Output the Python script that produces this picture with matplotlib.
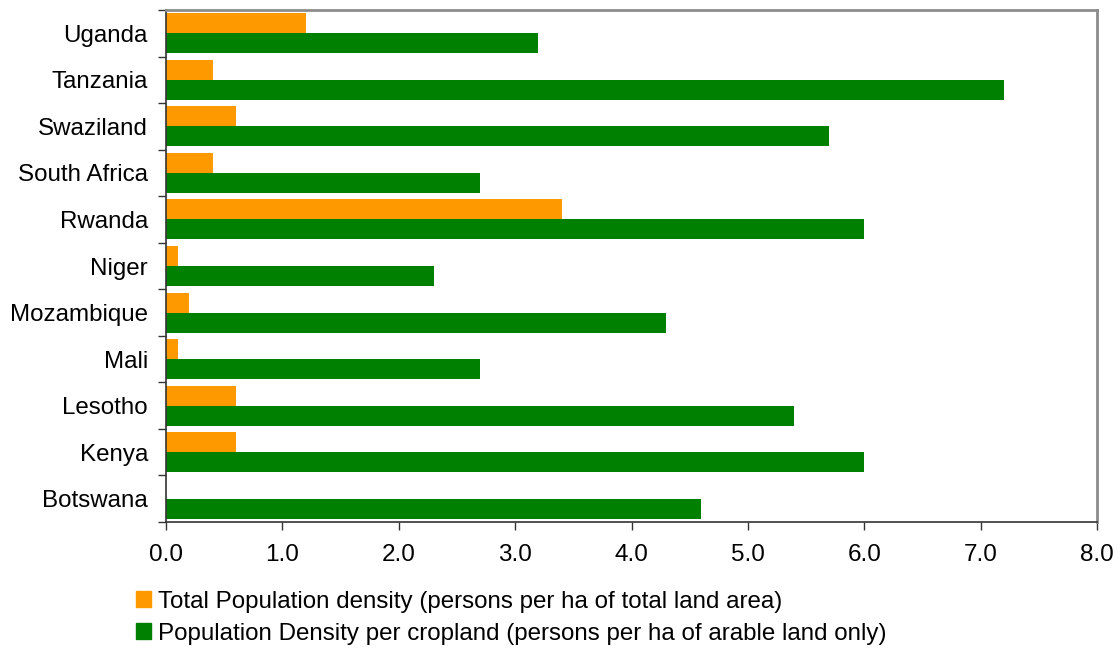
import numpy as np
import matplotlib.pyplot as plt
from matplotlib.patches import Patch

plt.rcParams['font.family'] = ['Liberation Sans', 'DejaVu Sans']

countries = ["Botswana", "Kenya", "Lesotho", "Mali", "Mozambique", "Niger",
             "Rwanda", "South Africa", "Swaziland", "Tanzania", "Uganda"]
total_density = [0.0, 0.6, 0.6, 0.1, 0.2, 0.1, 3.4, 0.4, 0.6, 0.4, 1.2]
cropland_density = [4.6, 6.0, 5.4, 2.7, 4.3, 2.3, 6.0, 2.7, 5.7, 7.2, 3.2]
xticks = np.arange(0, 9, 1.0)

ORANGE = "#FF9900"
GREEN = "#008000"

fig = plt.figure(figsize=(11.2, 6.48), dpi=100)
ax = fig.add_axes([0.1482, 0.1944, 0.8313, 0.7902])

y = np.arange(len(countries))
h = 0.43
ax.barh(y + h / 2, total_density, height=h, color=ORANGE)
ax.barh(y - h / 2, cropland_density, height=h, color=GREEN)

ax.set_xlim(0, 8)
ax.set_ylim(-0.5, len(countries) - 0.5)
ax.set_xticks(xticks)
ax.set_xticklabels([f"{v:.1f}" for v in xticks], fontsize=17.5)
ax.set_yticks(y)
ax.set_yticklabels(countries, fontsize=17.4)
ax.set_yticks(np.arange(-0.5, len(countries)), minor=True)
ax.tick_params(axis='y', which='major', length=0, pad=13)
ax.tick_params(axis='y', which='minor', length=6, width=1, color="#333333")
ax.tick_params(axis='x', length=6, width=1, color="#333333", pad=10)

for side in ("left", "bottom"):
    ax.spines[side].set_color("#333333")
    ax.spines[side].set_linewidth(1.2)
for side in ("top", "right"):
    ax.spines[side].set_color("#8c8c8c")
    ax.spines[side].set_linewidth(2)

handles = [Patch(color=ORANGE), Patch(color=GREEN)]
labels = ["Total Population density (persons per ha of total land area)",
          "Population Density per cropland (persons per ha of arable land only)"]
fig.legend(handles, labels, loc="upper left", bbox_to_anchor=(0.113, 0.1035),
           frameon=False, fontsize=17.4, handlelength=0.62, handleheight=0.62,
           handletextpad=0.3, labelspacing=0.42, borderaxespad=0)

fig.savefig("out.png", dpi=100)
